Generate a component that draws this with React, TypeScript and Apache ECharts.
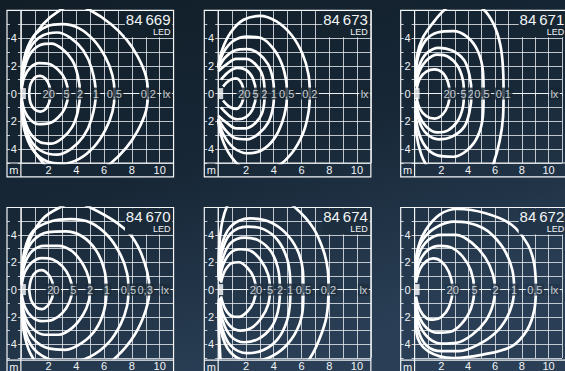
import React, { useEffect, useRef } from "react";
import * as echarts from "echarts";

const W = 565;
const H = 371;
const U = 13.88;
const PANEL_LEFT = [7, 204.3, 400.7];
const PANEL_TOP = [10.3, 207.5];
const FONT = "'Liberation Sans', Arial, Helvetica, sans-serif";
const TEXT = "#f2f4f6";
const GRID_COLOR = "rgba(232,236,240,0.8)";
const FRAME = "#f4f6f7";

const X_TICKS = [2, 4, 6, 8, 10];
const Y_TICKS = [-4, -2, 0, 2, 4];
const LAMP = [0, 0];

const PANEL_IDS = ["84\u2009669", "84\u2009673", "84\u2009671", "84\u2009670", "84\u2009674", "84\u2009672"];
const PANEL_SUB = "LED";
const PANEL_BG = ["#13212c", "#15242f", "#172633", "#1a2a38", "#1d2e3e", "#223548"];

// ---------- 84 669 ----------
const P1_LABELS = ["20", "5", "2", "1", "0,5", "0,2", "lx"];
const P1_LABEL_X = [2.0, 3.3, 4.26, 5.39, 6.73, 9.18, 10.5];
const P1_20 = [[0.6,0],[0.7,0.7],[1.0,1.15],[1.4,1.28],[1.8,1.05],[2.05,0.55],[2.15,0],[2.05,-0.6],[1.8,-1.1],[1.4,-1.3],[1.0,-1.15],[0.7,-0.7],[0.6,0]];
const P1_5 = [[0.05,-0.3],[0.25,-1.2],[0.7,-1.9],[1.3,-2.2],[2.0,-2.15],[2.7,-1.7],[3.2,-1.0],[3.4,0],[3.2,1.0],[2.7,1.7],[2.0,2.15],[1.3,2.2],[0.7,1.9],[0.25,1.2],[0.05,0.3]];
const P1_2 = [[0.05,-0.4],[0.25,-1.8],[0.7,-2.9],[1.4,-3.5],[2.2,-3.6],[3.0,-3.2],[3.7,-2.4],[4.1,-1.3],[4.26,0],[4.1,1.3],[3.7,2.4],[3.0,3.2],[2.2,3.6],[1.4,3.5],[0.7,2.9],[0.25,1.8],[0.05,0.4]];
const P1_1 = [[0.05,-0.5],[0.25,-2.2],[0.8,-3.5],[1.6,-4.2],[2.6,-4.4],[3.6,-4.0],[4.5,-3.1],[5.1,-1.8],[5.4,0],[5.1,1.8],[4.5,3.1],[3.6,4.0],[2.6,4.4],[1.6,4.2],[0.8,3.5],[0.25,2.2],[0.05,0.5]];
const P1_05 = [[0.05,-0.6],[0.25,-2.6],[0.9,-4.1],[1.9,-4.9],[3.0,-5.05],[4.2,-4.7],[5.3,-3.8],[6.1,-2.6],[6.6,-1.3],[6.75,0],[6.6,1.3],[6.1,2.6],[5.3,3.8],[4.2,4.7],[3.0,5.0],[1.9,4.85],[0.9,4.1],[0.25,2.6],[0.05,0.6]];
const P1_02 = [[0.05,-0.8],[0.2,-2.2],[0.7,-3.7],[1.6,-5.0],[2.8,-6.0],[3.9,-6.4],[5.0,-6.0],[6.5,-5.0],[7.6,-3.9],[8.4,-2.7],[9.0,-1.3],[9.15,0],[9.0,1.3],[8.4,2.7],[7.6,3.9],[6.5,5.0],[5.0,6.0],[3.9,6.4],[2.8,6.0],[1.6,5.0],[0.7,3.7],[0.2,2.2],[0.05,0.8]];
const P1_CURVES = [P1_20, P1_5, P1_2, P1_1, P1_05, P1_02];

// ---------- 84 673 ----------
const P2_LABELS = ["20", "5", "2", "1", "0,5", "0,2", "lx"];
const P2_LABEL_X = [1.87, 2.7, 3.33, 4.0, 4.93, 6.6, 10.55];
const P2_20 = [[0.35,-0.5],[0.8,-0.95],[1.3,-1.1],[1.7,-0.7],[1.85,0],[1.7,0.7],[1.3,1.1],[0.8,0.95],[0.35,0.5]];
const P2_5 = [[0.2,-1.0],[0.8,-1.6],[1.4,-1.85],[2.0,-1.7],[2.5,-1.1],[2.72,0],[2.5,1.1],[2.0,1.7],[1.4,1.85],[0.8,1.6],[0.2,1.0]];
const P2_2 = [[0.0,-1.6],[0.6,-2.1],[1.3,-2.5],[2.0,-2.5],[2.7,-2.1],[3.2,-1.3],[3.35,0],[3.2,1.3],[2.7,2.1],[2.0,2.5],[1.3,2.5],[0.6,2.1],[0.0,1.6]];
const P2_1 = [[0.0,-1.8],[0.5,-2.6],[1.2,-3.2],[2.1,-3.3],[2.9,-2.9],[3.6,-2.1],[3.95,-1.0],[4.02,0],[3.95,1.0],[3.6,2.1],[2.9,2.9],[2.1,3.2],[1.2,3.1],[0.5,2.6],[0.0,1.8]];
const P2_05 = [[0.0,-1.9],[0.4,-3.0],[1.1,-3.9],[2.1,-4.3],[3.1,-4.1],[4.0,-3.3],[4.6,-2.1],[4.9,-0.9],[4.95,0],[4.9,0.9],[4.6,2.1],[4.0,3.2],[3.1,4.0],[2.1,4.1],[1.1,3.8],[0.4,3.0],[0.0,1.9]];
const P2_02 = [[0.0,-2.0],[0.3,-3.3],[0.9,-4.5],[1.8,-5.4],[3.0,-5.7],[4.2,-5.3],[5.3,-4.3],[6.1,-2.9],[6.5,-1.4],[6.6,0],[6.5,1.4],[6.1,2.8],[5.3,4.2],[4.2,5.2],[3.0,5.6],[1.8,5.3],[0.9,4.4],[0.3,3.2],[0.0,2.0]];
const P2_CURVES = [P2_20, P2_5, P2_2, P2_1, P2_05, P2_02];

// ---------- 84 671 ----------
const P3_LABELS = ["20", "5", "2", "0,5", "0,1", "lx"];
const P3_LABEL_X = [2.62, 3.66, 4.2, 5.03, 6.62, 10.43];
const P3_20 = [[0.15,-0.3],[0.4,-1.1],[0.9,-1.65],[1.5,-1.8],[2.1,-1.5],[2.5,-0.8],[2.62,0],[2.5,0.8],[2.1,1.5],[1.5,1.75],[0.9,1.6],[0.4,1.1],[0.15,0.3]];
const P3_5 = [[0.1,-0.5],[0.35,-1.6],[0.9,-2.4],[1.7,-2.8],[2.5,-2.65],[3.2,-2.0],[3.6,-1.0],[3.68,0],[3.6,1.0],[3.2,2.0],[2.5,2.65],[1.7,2.8],[0.9,2.4],[0.35,1.6],[0.1,0.5]];
const P3_2 = [[0.1,-0.7],[0.35,-2.0],[0.9,-2.9],[1.8,-3.3],[2.8,-3.1],[3.7,-2.4],[4.1,-1.3],[4.25,0],[4.1,1.3],[3.7,2.4],[2.8,3.1],[1.8,3.3],[0.9,2.9],[0.35,2.0],[0.1,0.7]];
const P3_05 = [[0.05,-1.0],[0.25,-2.6],[0.8,-3.8],[1.7,-4.45],[2.9,-4.55],[3.9,-4.1],[4.7,-3.1],[5.1,-1.6],[5.15,0],[5.1,1.6],[4.7,3.1],[3.9,4.1],[2.9,4.5],[1.7,4.4],[0.8,3.8],[0.25,2.6],[0.05,1.0]];
const P3_01 = [[0.05,-1.2],[0.15,-3.0],[0.5,-4.4],[0.9,-5.2],[1.6,-6.2],[3.5,-7.0],[5.3,-6.3],[5.9,-5.0],[6.35,-3.4],[6.6,-1.7],[6.64,0],[6.6,1.8],[6.4,3.5],[5.9,5.0],[5.1,6.1],[3.6,6.9],[2.2,6.0],[1.3,5.0],[0.6,4.0],[0.2,2.8],[0.05,1.2]];
const P3_CURVES = [P3_20, P3_5, P3_2, P3_05, P3_01];

// ---------- 84 670 ----------
const P4_LABELS = ["20", "5", "2", "1", "0,5", "0,3", "lx"];
const P4_LABEL_X = [2.34, 3.78, 4.99, 6.19, 7.75, 8.95, 10.39];
const P4_20 = [[0.6,0],[0.75,0.8],[1.1,1.3],[1.5,1.43],[1.95,1.15],[2.25,0.6],[2.35,0],[2.25,-0.6],[1.95,-1.15],[1.5,-1.43],[1.1,-1.3],[0.75,-0.8],[0.6,0]];
const P4_5 = [[0.05,-0.3],[0.3,-1.3],[0.8,-2.0],[1.5,-2.3],[2.3,-2.2],[3.0,-1.7],[3.5,-0.9],[3.7,0],[3.5,0.9],[3.0,1.7],[2.3,2.2],[1.5,2.3],[0.8,2.0],[0.3,1.3],[0.05,0.3]];
const P4_2 = [[0.05,-0.4],[0.25,-1.8],[0.8,-2.8],[1.7,-3.3],[2.7,-3.3],[3.7,-2.8],[4.5,-1.8],[4.9,-0.8],[4.97,0],[4.9,0.8],[4.5,1.8],[3.7,2.8],[2.7,3.2],[1.7,3.2],[0.8,2.8],[0.25,1.8],[0.05,0.4]];
const P4_1 = [[0.05,-0.5],[0.25,-2.3],[0.9,-3.6],[2.0,-4.3],[3.2,-4.4],[4.4,-3.9],[5.4,-2.9],[6.0,-1.5],[6.17,0],[6.0,1.5],[5.4,2.9],[4.4,3.9],[3.2,4.25],[2.0,4.2],[0.9,3.6],[0.25,2.3],[0.05,0.5]];
const P4_05 = [[0.05,-0.6],[0.25,-2.8],[0.9,-4.3],[2.2,-5.15],[3.6,-5.3],[5.0,-4.9],[6.3,-3.9],[7.2,-2.5],[7.65,-1.2],[7.75,0],[7.65,1.2],[7.2,2.5],[6.3,3.9],[5.0,4.9],[3.6,5.15],[2.2,5.0],[0.9,4.3],[0.25,2.8],[0.05,0.6]];
const P4_03 = [[0.05,-0.8],[0.2,-3.0],[0.7,-4.7],[1.6,-5.8],[2.8,-6.3],[3.9,-6.6],[5.0,-6.3],[6.9,-4.9],[8.2,-3.3],[9.0,-1.5],[9.26,0],[9.1,1.3],[8.6,2.8],[7.9,4.0],[6.9,4.9],[5.0,6.0],[3.9,6.4],[2.8,6.0],[1.6,5.2],[0.7,3.8],[0.2,2.2],[0.05,0.8]];
const P4_CURVES = [P4_20, P4_5, P4_2, P4_1, P4_05, P4_03];

// ---------- 84 674 ----------
const P5_LABELS = ["20", "5", "2", "1", "0,5", "0,2", "lx"];
const P5_LABEL_X = [2.72, 3.73, 4.45, 5.18, 6.14, 7.94, 10.46];
const P5_20 = [[0.2,-0.5],[0.5,-1.4],[1.0,-1.95],[1.5,-2.0],[2.1,-1.6],[2.55,-0.9],[2.72,0],[2.55,0.9],[2.1,1.6],[1.5,2.0],[1.0,1.95],[0.5,1.4],[0.2,0.5]];
const P5_5 = [[0.1,-0.6],[0.35,-1.8],[0.9,-2.7],[1.6,-3.0],[2.4,-2.8],[3.1,-2.1],[3.6,-1.1],[3.73,0],[3.6,1.1],[3.1,2.1],[2.4,2.8],[1.6,2.95],[0.9,2.7],[0.35,1.8],[0.1,0.6]];
const P5_2 = [[0.05,-0.7],[0.3,-2.2],[0.9,-3.4],[1.9,-3.85],[2.9,-3.6],[3.8,-2.8],[4.3,-1.6],[4.45,0],[4.3,1.6],[3.8,2.8],[2.9,3.6],[1.9,3.8],[0.9,3.4],[0.3,2.2],[0.05,0.7]];
const P5_1 = [[0.05,-0.8],[0.25,-2.7],[0.9,-4.1],[2.1,-4.65],[3.3,-4.4],[4.3,-3.6],[4.95,-2.3],[5.18,-0.9],[5.2,0],[5.18,0.9],[4.95,2.3],[4.3,3.6],[3.3,4.4],[2.1,4.6],[0.9,4.1],[0.25,2.7],[0.05,0.8]];
const P5_05 = [[0.05,-0.9],[0.2,-3.0],[0.9,-4.6],[2.3,-5.25],[3.6,-5.0],[4.8,-4.2],[5.7,-2.9],[6.1,-1.4],[6.14,0],[6.1,1.4],[5.7,2.9],[4.8,4.2],[3.6,5.0],[2.3,5.2],[0.9,4.6],[0.2,3.0],[0.05,0.9]];
const P5_02 = [[0.02,-1.0],[0.1,-4.0],[0.6,-6.5],[3.5,-7.0],[5.5,-6.2],[6.62,-5.0],[7.3,-3.6],[7.8,-2.0],[7.95,0],[7.9,1.4],[7.6,2.8],[6.85,4.5],[5.54,6.0],[4.0,7.0],[1.5,7.0],[0.3,5.0],[0.02,1.0]];
const P5_CURVES = [P5_20, P5_5, P5_2, P5_1, P5_05, P5_02];

// ---------- 84 672 ----------
const P6_LABELS = ["20", "5", "2", "1", "0,5", "lx"];
const P6_LABEL_X = [2.84, 4.48, 6.04, 7.43, 8.97, 10.43];
const P6_20 = [[0.1,-0.5],[0.4,-1.5],[0.9,-2.1],[1.4,-2.2],[2.0,-2.0],[2.55,-1.3],[2.84,0],[2.55,1.3],[2.0,2.05],[1.4,2.28],[0.9,2.1],[0.4,1.5],[0.1,0.5]];
const P6_5 = [[0.05,-0.6],[0.3,-1.9],[0.9,-2.8],[1.7,-3.15],[2.6,-3.1],[3.5,-2.5],[4.2,-1.4],[4.45,0],[4.2,1.4],[3.6,2.4],[2.8,3.05],[1.9,3.2],[1.0,2.9],[0.35,2.0],[0.05,0.6]];
const P6_2 = [[0.05,-0.7],[0.3,-2.4],[1.0,-3.5],[2.0,-3.95],[3.1,-3.9],[4.3,-3.3],[5.3,-2.3],[5.85,-1.1],[6.0,0],[5.85,1.1],[5.3,2.3],[4.3,3.4],[3.1,4.0],[2.0,4.0],[1.0,3.6],[0.3,2.5],[0.05,0.7]];
const P6_1 = [[0.05,-0.8],[0.25,-2.9],[0.9,-4.1],[2.0,-4.5],[3.3,-4.5],[4.8,-4.0],[6.2,-3.0],[7.1,-1.6],[7.43,0],[7.3,1.4],[6.76,2.8],[5.9,3.9],[5.1,4.5],[3.9,4.9],[2.9,4.97],[1.9,4.7],[0.9,4.0],[0.25,2.9],[0.05,0.8]];
const P6_05 = [[0.05,-1.0],[0.15,-3.2],[1.0,-4.5],[2.9,-5.0],[5.1,-4.75],[7.24,-4.15],[8.4,-2.95],[8.93,-1.5],[9.05,0],[8.93,1.86],[8.44,3.3],[7.24,4.74],[5.3,5.58],[3.2,5.89],[1.9,5.5],[0.8,4.3],[0.2,2.8],[0.05,1.0]];
const P6_CURVES = [P6_20, P6_5, P6_2, P6_1, P6_05];

const PANEL_LABELS = [P1_LABELS, P2_LABELS, P3_LABELS, P4_LABELS, P5_LABELS, P6_LABELS];
const PANEL_LABEL_X = [P1_LABEL_X, P2_LABEL_X, P3_LABEL_X, P4_LABEL_X, P5_LABEL_X, P6_LABEL_X];
const PANEL_CURVES = [P1_CURVES, P2_CURVES, P3_CURVES, P4_CURVES, P5_CURVES, P6_CURVES];

function buildOption() {
  const grid: any[] = [];
  const xAxis: any[] = [];
  const yAxis: any[] = [];
  const series: any[] = [];
  const graphic: any[] = [];

  PANEL_IDS.forEach((id, i) => {
    const L = PANEL_LEFT[i % 3];
    const T = PANEL_TOP[Math.floor(i / 3)];
    const bg = PANEL_BG[i];
    grid.push({ left: L + U, top: T, width: 11 * U, height: 11 * U });
    xAxis.push({
      type: "value", gridIndex: i, min: 0, max: 11, interval: 1, position: "bottom",
      axisLine: { show: false },
      axisTick: { show: true, length: 3, lineStyle: { color: GRID_COLOR } },
      splitLine: { show: true, lineStyle: { color: GRID_COLOR, width: 1 } },
      axisLabel: {
        formatter: (v: number) => (X_TICKS.includes(v) ? String(v) : ""),
        margin: 2, color: TEXT, fontSize: 11, fontFamily: FONT,
        showMinLabel: true, showMaxLabel: true,
      },
    });
    yAxis.push({
      type: "value", gridIndex: i, min: -5, max: 6, interval: 1, position: "left",
      axisLine: { show: false },
      axisTick: { show: true, length: 3, lineStyle: { color: GRID_COLOR } },
      splitLine: { show: true, lineStyle: { color: GRID_COLOR, width: 1 } },
      axisLabel: {
        formatter: (v: number) => (Y_TICKS.includes(v) ? String(Math.abs(v)) : ""),
        margin: 4, color: TEXT, fontSize: 11, fontFamily: FONT,
      },
    });
    yAxis.push({
      type: "value", gridIndex: i, min: -5, max: 6, interval: 1, position: "left", offset: U,
      axisLine: { show: false },
      axisTick: { show: true, inside: true, length: 3, lineStyle: { color: GRID_COLOR } },
      splitLine: { show: false },
      axisLabel: { show: false },
    });

    PANEL_CURVES[i].forEach((curve) => {
      series.push({
        type: "line", xAxisIndex: i, yAxisIndex: 2 * i, data: curve,
        smooth: 0.35, showSymbol: false, symbol: "none", clip: true, silent: true,
        lineStyle: { color: "#ffffff", width: 2.7 }, z: 3,
      });
    });

    series.push({
      type: "scatter", xAxisIndex: i, yAxisIndex: 2 * i, silent: true,
      data: PANEL_LABEL_X[i].map((x, k) => ({ value: [x, 0], name: PANEL_LABELS[i][k] })),
      symbolSize: 1, itemStyle: { color: "rgba(0,0,0,0)" },
      label: {
        show: true, position: "inside", formatter: "{b}", color: TEXT, fontSize: 11,
        fontFamily: FONT, backgroundColor: bg, padding: [1, 1.5, 0, 1.5],
      },
      labelLayout: { hideOverlap: false },
      markLine: {
        silent: true, symbol: "none", animation: false,
        data: [{ yAxis: 0 }],
        lineStyle: { color: "#f0f3f5", width: 1.2, type: "solid" },
        label: { show: false },
      },
      z: 6,
    });

    series.push({
      type: "scatter", xAxisIndex: i, yAxisIndex: 2 * i, silent: true,
      data: [LAMP], symbol: "rect", symbolSize: [5, 11], symbolOffset: [2.5, 0],
      itemStyle: { color: "#ffffff" }, z: 7,
    });

    graphic.push(
      {
        type: "rect", silent: true, z: 20,
        shape: { x: L + 8.5 * U, y: T + 0.7, width: 3.5 * U - 1.2, height: 2 * U - 1.4 },
        style: { fill: bg },
      },
      {
        type: "text", silent: true, z: 21, x: L + 12 * U - 3, y: T + 1.5,
        style: { text: id, fill: TEXT, font: `15px ${FONT}`, textAlign: "right", textVerticalAlign: "top" },
      },
      {
        type: "text", silent: true, z: 21, x: L + 12 * U - 3, y: T + 17,
        style: { text: PANEL_SUB, fill: TEXT, font: `9px ${FONT}`, textAlign: "right", textVerticalAlign: "top" },
      },
      {
        type: "rect", silent: true, z: 22,
        shape: { x: L, y: T, width: 12 * U, height: 12 * U },
        style: { fill: "none", stroke: FRAME, lineWidth: 1.2 },
      },
      {
        type: "line", silent: true, z: 22,
        shape: { x1: L + U, y1: T, x2: L + U, y2: T + 12 * U },
        style: { stroke: FRAME, lineWidth: 1.2 },
      },
      {
        type: "line", silent: true, z: 22,
        shape: { x1: L, y1: T + 11 * U, x2: L + 12 * U, y2: T + 11 * U },
        style: { stroke: FRAME, lineWidth: 1.2 },
      },
      {
        type: "text", silent: true, z: 21, x: L + U / 2, y: T + 11.5 * U,
        style: { text: "m", fill: TEXT, font: `11px ${FONT}`, textAlign: "center", textVerticalAlign: "middle" },
      }
    );
  });

  return {
    animation: false,
    backgroundColor: {
      type: "linear", x: 0, y: 0, x2: 0.45, y2: 1,
      colorStops: [
        { offset: 0, color: "#111e28" },
        { offset: 0.5, color: "#172736" },
        { offset: 1, color: "#2a3f56" },
      ],
    },
    grid, xAxis, yAxis, series, graphic,
  };
}

export default function App() {
  const ref = useRef<HTMLDivElement>(null);
  useEffect(() => {
    if (!ref.current) return;
    const chart = echarts.init(ref.current, undefined, { renderer: "svg" });
    chart.setOption(buildOption() as any);
    return () => chart.dispose();
  }, []);
  return (
    <div
      ref={ref}
      style={{ position: "fixed", left: 0, top: 0, width: W, height: H }}
    />
  );
}
